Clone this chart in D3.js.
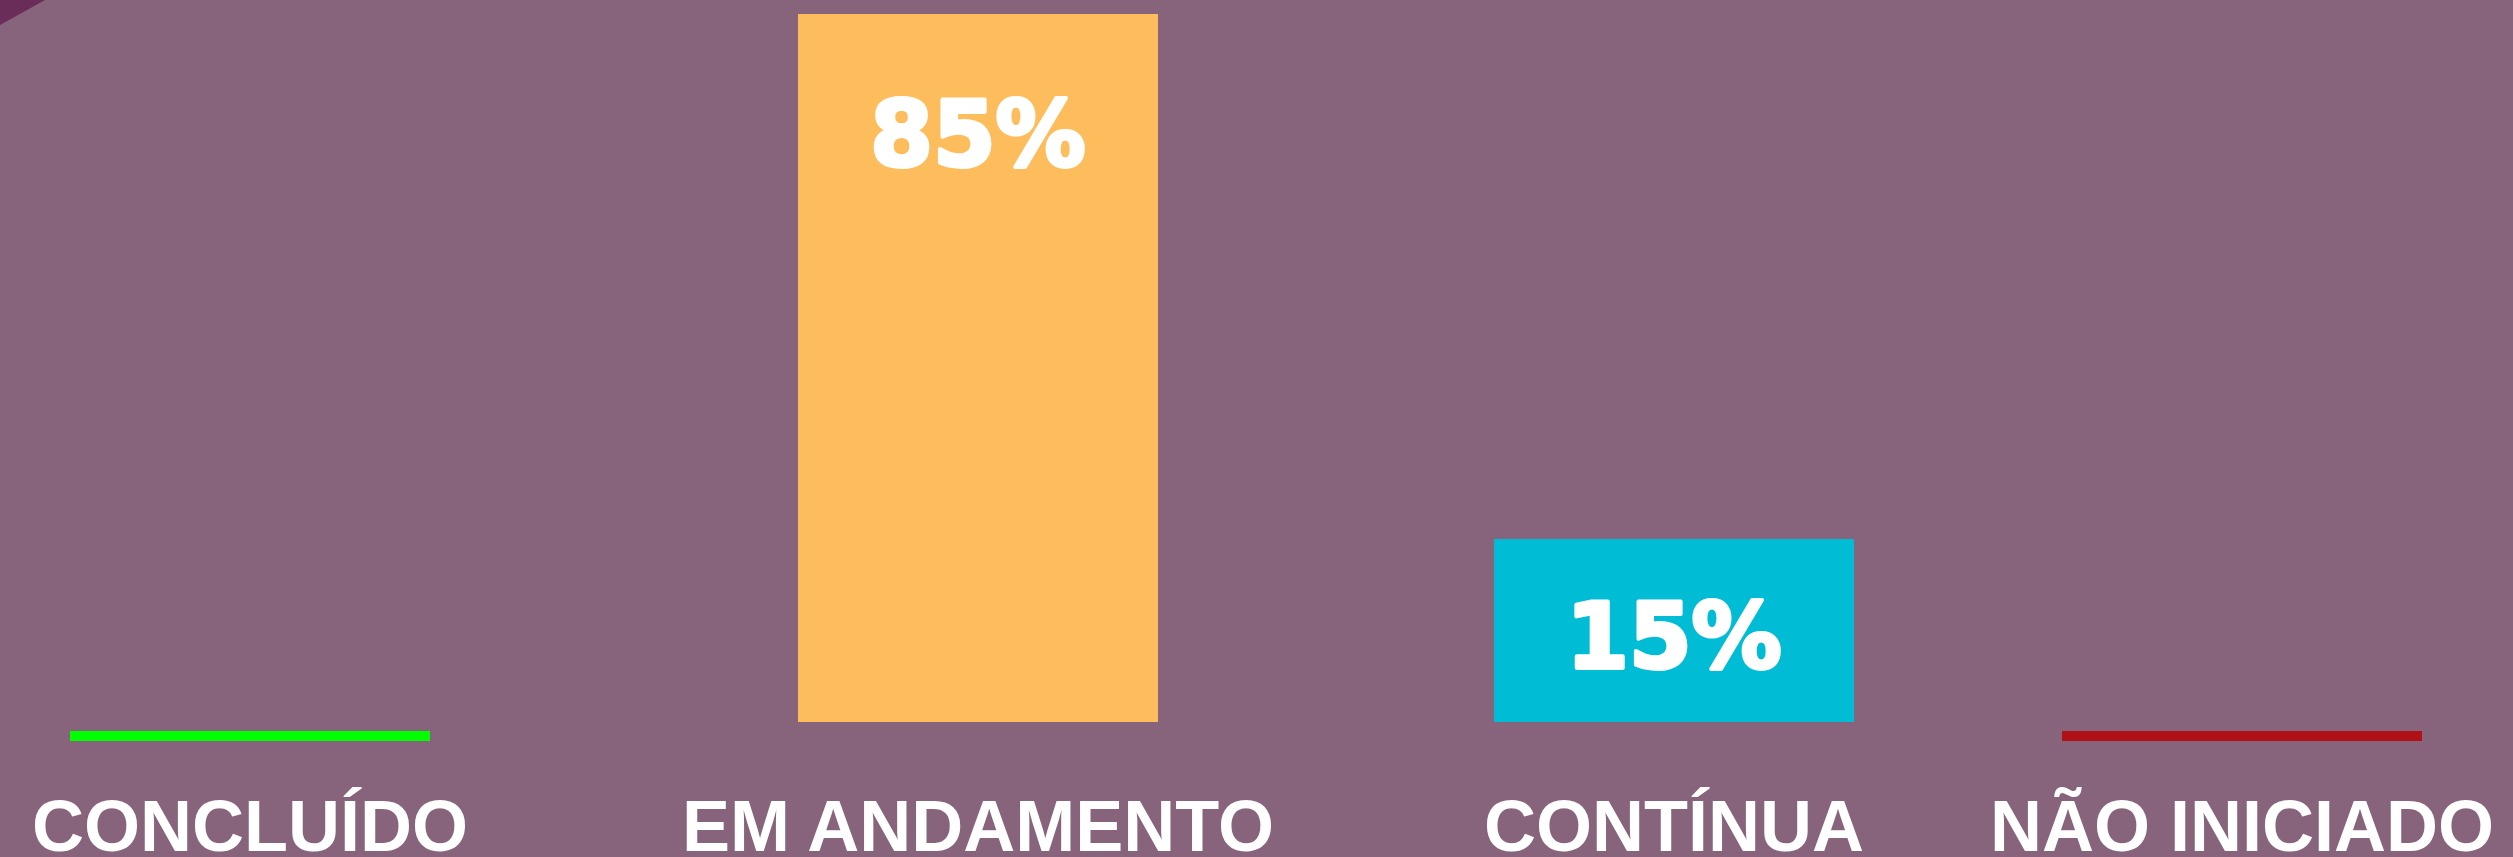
<!DOCTYPE html>
<html>
<head>
<meta charset="utf-8">
<script src="https://cdn.jsdelivr.net/npm/d3@7"></script>
<style>
  body { margin: 0; background: #87647b; }
  svg { display: block; }
</style>
</head>
<body>
<div class="chart"></div>
<script>
var categories = ["CONCLUÍDO", "EM ANDAMENTO", "CONTÍNUA", "NÃO INICIADO"];
var values = [0, 85, 15, 0];
var colors = ["#00ff00", "#fdbd5c", "#00bcd5", "#b01116"];

var width = 2513, height = 857;
var barWidth = 360;
var slotLeft = [70, 798, 1494, 2062]; // layout of the four slots
var stubHeight = 10, barGap = 14;

var x = d3.scaleOrdinal().domain(categories).range(slotLeft);
var positive = values.filter(function(v) { return v > 0; });
var y = d3.scaleLinear()
    .domain([0, d3.min(positive), d3.max(values)])
    .range([736, 539, 14]);

var data = categories.map(function(c, i) {
    return {cat: c, value: values[i], color: colors[i]};
});

var svg = d3.select('.chart').append('svg').attr('width', width).attr('height', height);

svg.append('rect').attr('width', width).attr('height', height).style('fill', '#87647b');
// dark corner fold
svg.append('path').attr('d', 'M0,0L45,0L0,25Z').style('fill', '#6a2c58');

var baseline = y(0) - barGap;

svg.append('g').selectAll('rect')
    .data(data)
    .enter().append('rect')
      .attr('x', function(d) { return x(d.cat); })
      .attr('width', barWidth)
      .attr('y', function(d) { return d.value > 0 ? y(d.value) : y(0) - stubHeight / 2; })
      .attr('height', function(d) { return d.value > 0 ? baseline - y(d.value) : stubHeight; })
      .style('fill', function(d) { return d.color; });

// percentages, heavy face faked with a white stroke
svg.append('g').selectAll('text')
    .data(data.filter(function(d) { return d.value > 0; }))
    .enter().append('text')
      .attr('x', function(d) { return x(d.cat) + barWidth / 2; })
      .attr('y', function(d) {
          var h = baseline - y(d.value);
          return y(d.value) + Math.min(152, h / 2 + 37);
      })
      .attr('text-anchor', 'middle')
      .style('font-family', '"DejaVu Sans", sans-serif')
      .style('font-weight', 'bold')
      .style('font-size', '90px')
      .style('fill', '#fff')
      .style('stroke', '#fff')
      .style('stroke-width', 4)
      .style('stroke-linejoin', 'round')
      .text(function(d) { return d.value + '%'; });

svg.append('g').selectAll('text')
    .data(data)
    .enter().append('text')
      .attr('x', function(d) { return x(d.cat) + barWidth / 2; })
      .attr('y', 851)
      .attr('text-anchor', 'middle')
      .style('font-family', '"Liberation Sans", Arial, sans-serif')
      .style('font-weight', 'bold')
      .style('font-size', '72px')
      .style('fill', '#fff')
      .text(function(d) { return d.cat; });
</script>
</body>
</html>
